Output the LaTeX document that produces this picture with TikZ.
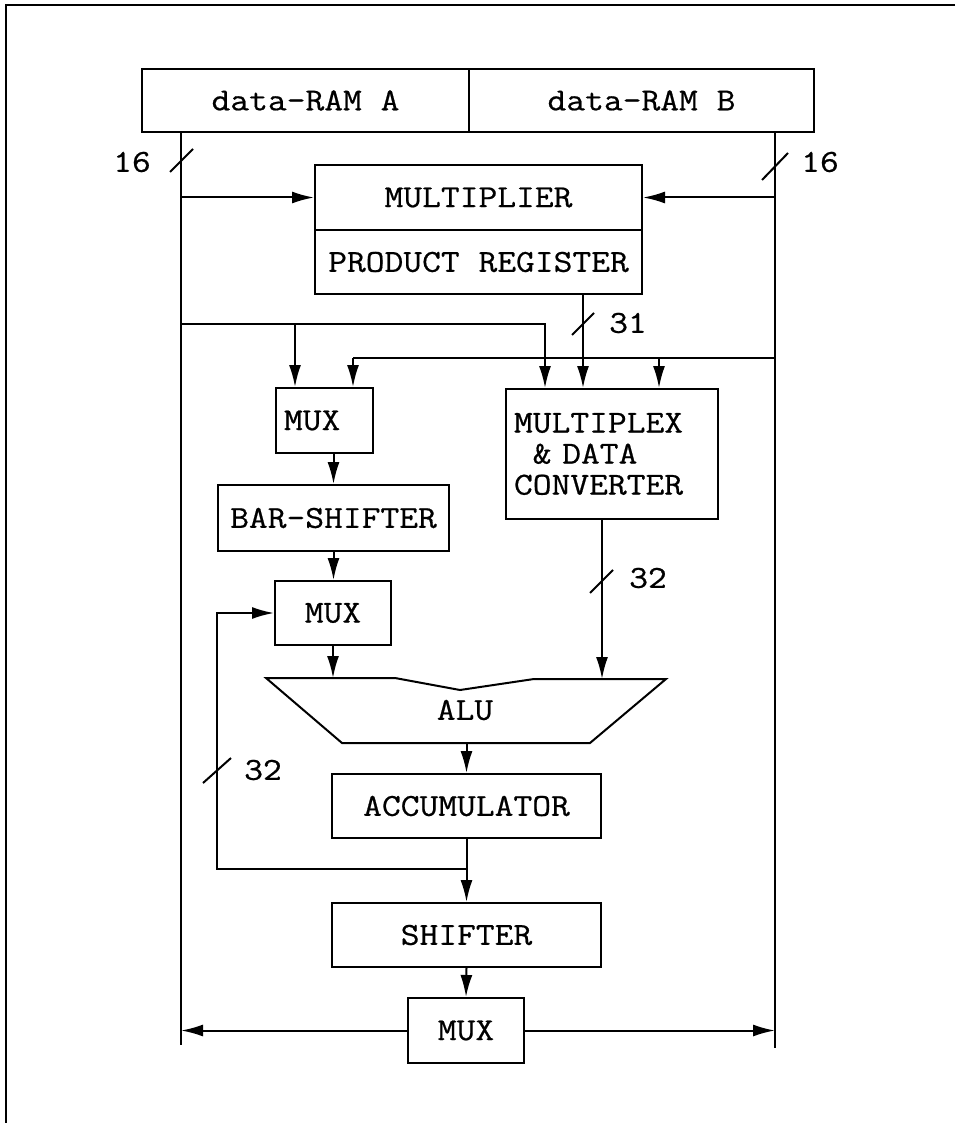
\documentclass[tikz,border=0pt]{standalone}
\usepackage{fontspec}
\setmonofont{Latin Modern Mono}[FakeStretch=1.14, FakeBold=0.6]
\usetikzlibrary{arrows.meta, positioning, calc}
\tikzset{
  bloc/.style={draw, line width=1pt, inner sep=0pt, font=\ttfamily\fontsize{16}{15.5}\selectfont},
  txt/.style={inner sep=0pt, font=\ttfamily\fontsize{16}{15.5}\selectfont},
  lien/.style={line width=1pt},
  fl/.style={line width=1pt, -{Latex[length=11pt,width=6pt]}},
}

\begin{document}
\begin{tikzpicture}[x=0.5pt, y=-0.5pt]
  \useasboundingbox (0,0) rectangle (955,1123);
  % cadre
  \draw[line width=0.8pt] (955,5) -- (6,5) -- (6,1123);

  % memoires et multiplieur
  \node[bloc, minimum width=163.5pt, minimum height=31.5pt] (ramA) at (305.5,100.5) {data-RAM A};
  \node[bloc, minimum width=172.5pt, minimum height=31.5pt] (ramB) at (641.5,100.5) {data-RAM B};
  \node[bloc, minimum width=163.5pt, minimum height=32.5pt] (mult) at (478.5,197.5) {MULTIPLIER};
  \node[bloc, minimum width=163.5pt, minimum height=32pt] (preg) at (478.5,262) {PRODUCT REGISTER};

  % blocs du chemin de donnees
  \node[bloc, inner xsep=4pt, text width=40.5pt, align=left, minimum height=32.5pt] (mux1) at (324.5,420.5) {MUX};
  \node[bloc, inner xsep=4pt, text width=98pt, align=left, minimum height=65pt] (mpx) at (612,454)
    {MULTIPLEX\\\phantom{M}\& DATA\\CONVERTER};
  \node[bloc, minimum width=115.5pt, minimum height=33pt] (bsh) at (333.5,518) {BAR-SHIFTER};
  \node[bloc, minimum width=58pt, minimum height=32pt] (mux2) at (333,613) {MUX};
  \node[bloc, minimum width=134.5pt, minimum height=32pt] (acc) at (466.5,806) {ACCUMULATOR};
  \node[bloc, minimum width=134.5pt, minimum height=32pt] (shf) at (466.5,935) {SHIFTER};
  \node[bloc, minimum width=58pt, minimum height=32.5pt] (mux3) at (466,1030.5) {MUX};

  % ALU
  \draw[lien, line join=miter] (266,678) -- (395,678) -- (460,690) -- (534,679) -- (666,679)
    -- (590,743) -- (342,743) -- cycle;
  \node[txt] (alu) at (465,710) {ALU};

  % points des bus
  \coordinate (aTop) at (181,132);
  \coordinate (aBot) at (181,1045);
  \coordinate (bTop) at (775,132);
  \coordinate (bBot) at (775,1048);
  \coordinate (prOut) at (583,294);
  \coordinate (tapA) at (545,324);
  \coordinate (m1a) at (295,324);
  \coordinate (tapB) at (353,358);
  \coordinate (tapC) at (659,358);
  \coordinate (mpxOut) at (602,519);
  \coordinate (aluA) at (333,678);
  \coordinate (aluB) at (602,679);
  \coordinate (aluOut) at (466.5,743);
  \coordinate (retour) at (217,869);

  \draw[lien] (aTop) -- (aBot);
  \draw[lien] (bTop) -- (bBot);
  \draw[fl] (aTop |- mult.west) -- (mult.west);
  \draw[fl] (bTop |- mult.east) -- (mult.east);
  \draw[fl] (prOut) -- (prOut |- mpx.north);
  \draw[fl] (aTop |- tapA) -- (tapA) -- (tapA |- mpx.north);
  \draw[fl] (m1a) -- (m1a |- mux1.north);
  \draw[lien] (bTop |- tapB) -- (tapB);
  \draw[fl] (tapB) -- (tapB |- mux1.north);
  \draw[fl] (tapC) -- (tapC |- mpx.north);
  \draw[fl] (bsh.north |- mux1.south) -- (bsh.north);
  \draw[fl] (bsh.south) -- (bsh.south |- mux2.north);
  \draw[fl] (mux2.south) -- (aluA);
  \draw[fl] (mpxOut) -- (aluB);
  \draw[fl] (aluOut) -- (acc.north);
  \draw[fl] (acc.south) -- (shf.north);
  \draw[fl] (acc.south |- retour) -- (retour) |- (mux2.west);
  \draw[fl] (shf.south) -- (mux3.north);
  \draw[fl] (mux3.west) -- (mux3.west -| aBot);
  \draw[fl] (mux3.east) -- (mux3.east -| bBot);

  % largeurs des bus
  \draw[lien] (170,172) -- (193,149);
  \node[txt] (w16a) at (132,162) {16};
  \draw[lien] (762,180) -- (788,153);
  \node[txt] (w16b) at (820,162) {16};
  \draw[lien] (572,335) -- (594,313);
  \node[txt] (w31) at (628,323) {31};
  \draw[lien] (590,593) -- (613,570);
  \node[txt] (w32a) at (648,578) {32};
  \draw[lien] (203,783) -- (231,758);
  \node[txt] (w32b) at (263,770) {32};
\end{tikzpicture}
\end{document}
